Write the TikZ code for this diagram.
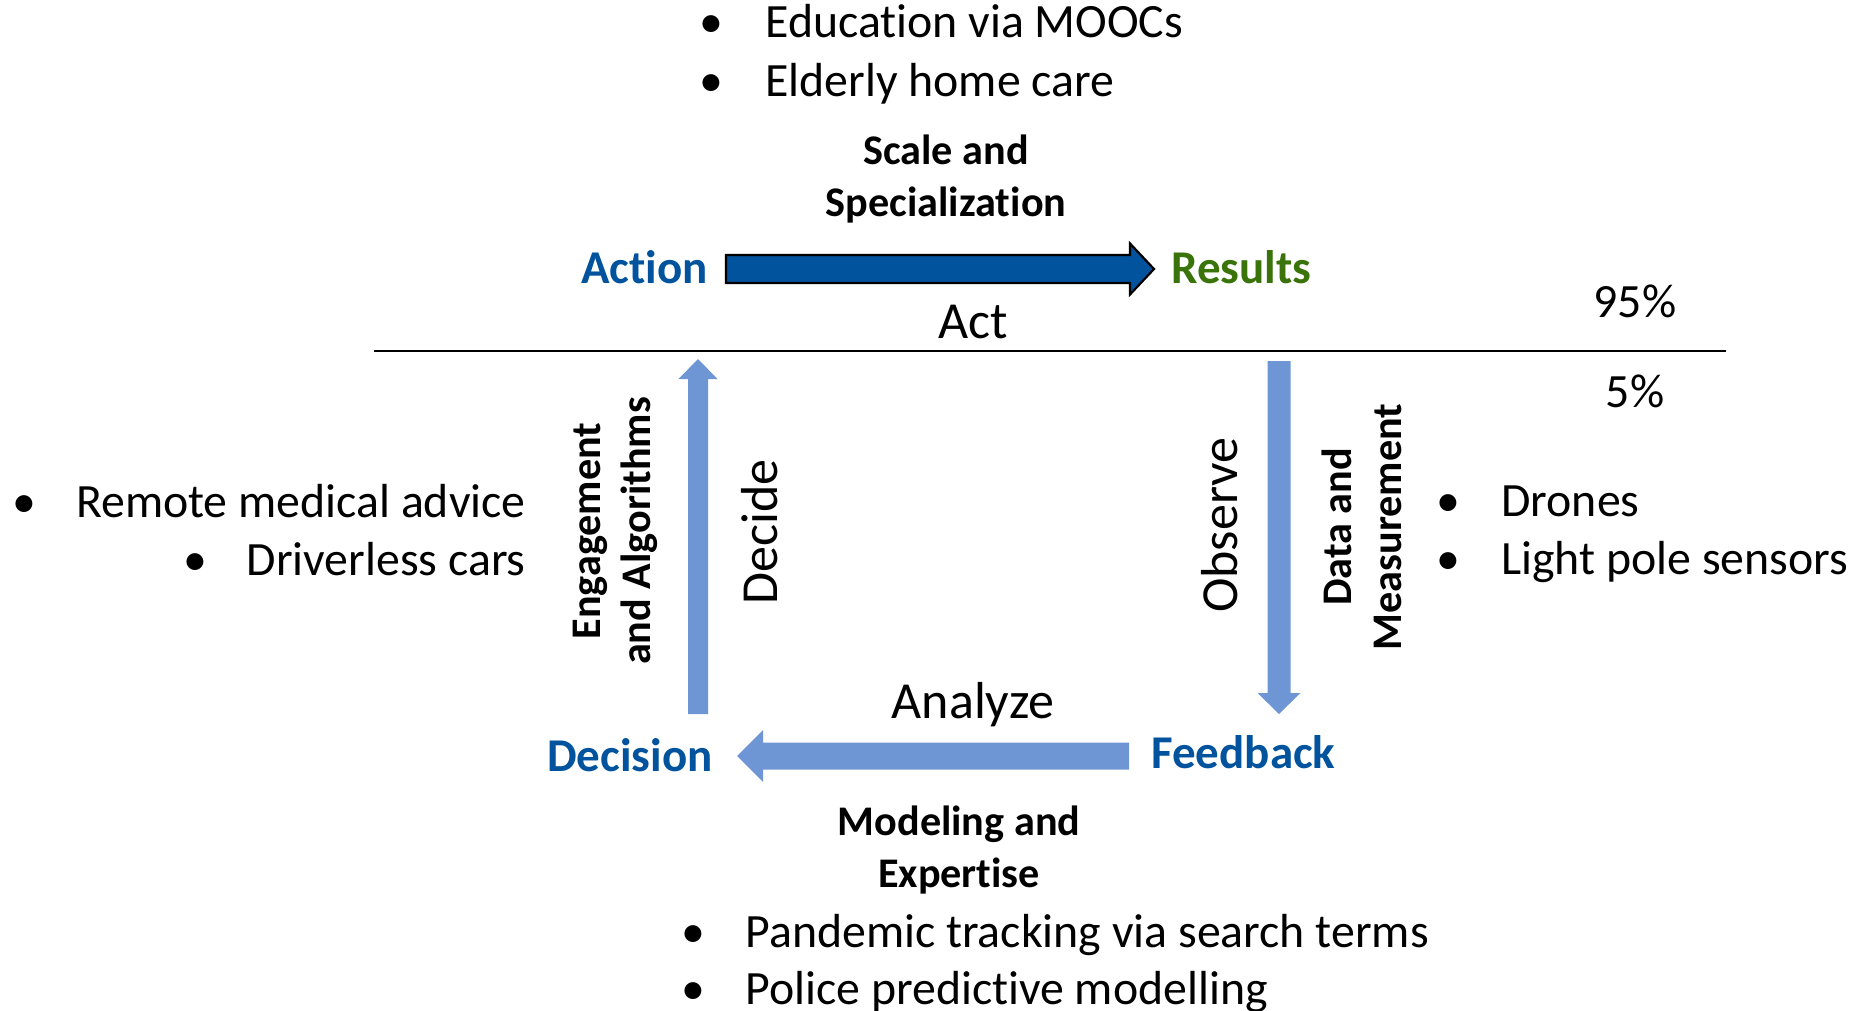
\documentclass[tikz,border=0pt]{standalone}
\usepackage{fontspec}
\setmainfont[Ligatures=NoCommon]{Carlito}
\usepackage{tikz}
\usetikzlibrary{calc}
\definecolor{stageblue}{RGB}{0,83,156}
\definecolor{flowblue}{RGB}{111,150,212}
\definecolor{resultgreen}{RGB}{58,115,10}

\begin{document}
\begin{tikzpicture}[x=0.5pt,y=-0.5pt,line join=miter,
  item/.style={inner sep=0pt,anchor=base west,font=\fontsize{23.9pt}{28pt}\selectfont},
  dot/.style={inner sep=0pt,anchor=base,font=\fontsize{23.9pt}{28pt}\selectfont},
  stage/.style={inner sep=0pt,anchor=base,font=\bfseries\fontsize{23.5pt}{28pt}\selectfont,text=stageblue},
  verb/.style={inner sep=0pt,font=\fontsize{26pt}{31pt}\selectfont},
  enabler/.style={inner sep=0pt,align=center,font=\bfseries\fontsize{21.1pt}{25pt}\selectfont},
  darkflow/.style={draw=black,line width=1.1pt,fill=stageblue},
  lightflow/.style={fill=flowblue}]
%%
\useasboundingbox (0,0) rectangle (1854,1011);
% top: act
\node (edu-dot) at (711,38) [dot] {•};
  \node (edu) at (765,38) [item] {Education via MOOCs};
  \node (elderly-dot) at (711,97) [dot] {•};
  \node (elderly) at (765,97) [item] {Elderly home care};
  \node (scale) at (946,165) [enabler,anchor=base] {Scale and};
  \node (special) at (946,216) [enabler,anchor=base] {Specialization};
  \node (action) at (708,283) [stage,anchor=base east] {Action};
  \node (results) at (1171,283) [stage,anchor=base west,text=resultgreen] {Results};
  \node (act) at (973,338) [verb,anchor=base] {Act};
  \node (top-share) at (1635,317) [item,anchor=base] {95\%};
  \node (low-share) at (1635,407) [item,anchor=base] {5\%};
  \coordinate (rule-w) at (374,351);
  \coordinate (rule-e) at (1726,351);
  \draw [line width=1.25pt] (rule-w) -- (rule-e);
  \coordinate (act-tail) at (726,269);
  \coordinate (act-tip) at (1154,269);
  \draw [darkflow] (act-tail) ++(0,-14) -- ++(404,0) -- ++(0,-11.5) -- (act-tip)
    -- ++(-24,25.5) -- ++(0,-11.5) -- ++(-404,0) -- cycle;
% left: decide
  \node (remote-dot) at (24,517) [dot] {•};
  \node (remote) at (526,517) [item,anchor=base east] {Remote medical advice};
  \node (cars-dot) at (195,575) [dot] {•};
  \node (cars) at (526,575) [item,anchor=base east] {Driverless cars};
  \node (engage) at (615,531) [enabler,rotate=90] {Engagement\\and Algorithms};
  \node (decide) at (760,532) [verb,rotate=90] {Decide};
  \coordinate (decide-tail) at (698,714);
  \coordinate (decide-tip) at (698,359);
  \fill [lightflow] (decide-tail) ++(-10,0) -- ++(0,-335) -- ++(-9.5,0) -- (decide-tip)
    -- ++(19.5,20) -- ++(-9.5,0) -- ++(0,335) -- cycle;
  \node (decision) at (713,771) [stage,anchor=base east] {Decision};
% right: observe
  \node (observe) at (1220,525) [verb,rotate=90] {Observe};
  \node (measure) at (1362,527) [enabler,rotate=90] {Data and\\Measurement};
  \coordinate (observe-tail) at (1279,361);
  \coordinate (observe-tip) at (1279,714);
  \fill [lightflow] (observe-tail) ++(-11.5,0) -- ++(0,332) -- ++(-10,0) -- (observe-tip)
    -- ++(21.5,-21) -- ++(-10,0) -- ++(0,-332) -- cycle;
  \node (drones-dot) at (1448,516) [dot] {•};
  \node (drones) at (1501,516) [item] {Drones};
  \node (pole-dot) at (1448,574) [dot] {•};
  \node (pole) at (1501,574) [item] {Light pole sensors};
  \node (feedback) at (1151,768) [stage,anchor=base west] {Feedback};
% bottom: analyze
  \node (analyze) at (973,718) [verb,anchor=base] {Analyze};
  \coordinate (analyze-tail) at (1129,756);
  \coordinate (analyze-tip) at (737,756);
  \fill [lightflow] (analyze-tail) ++(0,-13.5) -- ++(-366,0) -- ++(0,-12.5) -- (analyze-tip)
    -- ++(26,26) -- ++(0,-12.5) -- ++(366,0) -- cycle;
  \node (model) at (959,835) [enabler,anchor=base] {Modeling and};
  \node (expert) at (959,887) [enabler,anchor=base] {Expertise};
  \node (pandemic-dot) at (693,947) [dot] {•};
  \node (pandemic) at (745,947) [item] {Pandemic tracking via search terms};
  \node (police-dot) at (693,1004) [dot] {•};
  \node (police) at (745,1004) [item] {Police predictive modelling};
%
\end{tikzpicture}
\end{document}
